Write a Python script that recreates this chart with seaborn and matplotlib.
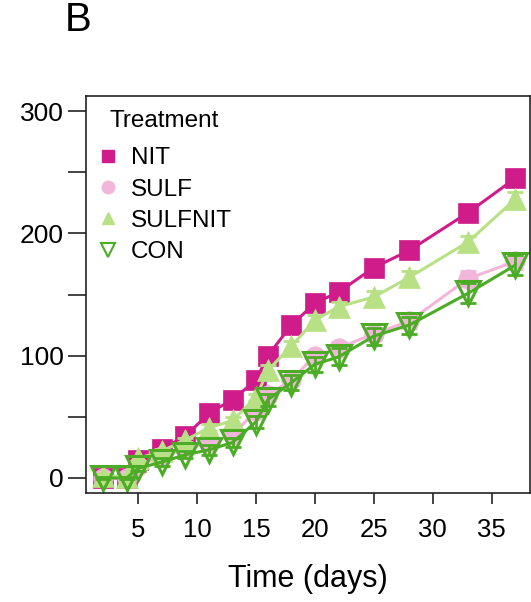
import matplotlib
matplotlib.use("Agg")
import matplotlib.pyplot as plt
import seaborn as sns
import pandas as pd
import numpy as np
from matplotlib.lines import Line2D

days = [2, 4, 5, 7, 9, 11, 13, 15, 16, 18, 20, 22, 25, 28, 33, 37]
nit = [0, 0, 15, 24, 34, 53, 64, 80, 100, 125, 143, 152, 172, 186, 217, 245]
sulf = [0, 0, 10, 18, 24, 28, 35, 55, 68, 80, 100, 106, 118, 128, 163, 177]
sulfnit = [2, 1, 16, 22, 31, 41, 47, 66, 88, 108, 129, 140, 148, 164, 193, 228]
con = [0, 0, 8, 13, 19, 23, 29, 46, 64, 78, 93, 99, 116, 125, 151, 174]
err_nit = [1, 1, 2, 2, 2, 3, 3, 3, 3, 3, 4, 4, 4, 4, 5, 5]
err_sulf = [1, 1, 2, 2, 2, 3, 3, 3, 4, 4, 4, 5, 5, 5, 6, 6]
err_sulfnit = [1, 1, 2, 2, 2, 3, 3, 3, 4, 4, 4, 4, 5, 5, 5, 6]
err_con = [1, 1, 2, 3, 3, 4, 4, 5, 5, 6, 6, 7, 7, 7, 8, 8]

treatments = ["NIT", "SULF", "SULFNIT", "CON"]
colors = {"NIT": "#d01c8b", "SULF": "#f1b6da", "SULFNIT": "#b8e186", "CON": "#4dac26"}
markers = {"NIT": "s", "SULF": "o", "SULFNIT": "^", "CON": "v"}
msizes = {"NIT": 14, "SULF": 14, "SULFNIT": 16, "CON": 17}

frames = []
for t, vals, errs in zip(treatments, [nit, sulf, sulfnit, con],
                         [err_nit, err_sulf, err_sulfnit, err_con]):
    frames.append(pd.DataFrame({"Time": days, "Value": vals, "Err": errs, "Treatment": t}))
df = pd.concat(frames, ignore_index=True)

sns.set_style("white")
plt.rcParams["font.family"] = ["Liberation Sans", "DejaVu Sans"]
plt.rcParams["text.color"] = "black"
plt.rcParams["axes.labelcolor"] = "black"
plt.rcParams["xtick.color"] = "black"
plt.rcParams["ytick.color"] = "black"

fig = plt.figure(figsize=(5.31, 6.02), dpi=100)
ax = fig.add_axes([86 / 531, 1 - 493 / 602, (530 - 86) / 531, (493 - 96) / 602])

for t in treatments:
    sub = df[df["Treatment"] == t]
    c = colors[t]
    ax.errorbar(sub["Time"], sub["Value"], yerr=sub["Err"], fmt="none",
                ecolor=c, elinewidth=2, capsize=6, capthick=2, zorder=2)
    if t == "CON":
        sns.lineplot(data=sub, x="Time", y="Value", ax=ax, color=c, lw=2.2,
                     marker="v", markersize=msizes[t], markerfacecolor="none",
                     markeredgecolor=c, markeredgewidth=2.2, legend=False)
    else:
        sns.lineplot(data=sub, x="Time", y="Value", ax=ax, color=c, lw=2.2,
                     marker=markers[t], markersize=msizes[t], markerfacecolor=c,
                     markeredgecolor=c, markeredgewidth=0.5, legend=False)

ax.set_xlim(0.56, 38.25)
ax.set_ylim(-12.3, 312.3)
ax.set_xticks([5, 10, 15, 20, 25, 30, 35])
ax.set_yticks([0, 50, 100, 150, 200, 250, 300])
ax.set_yticklabels(["0", "", "100", "", "200", "", "300"])
ax.tick_params(axis="x", length=8, width=1.2, pad=10, labelsize=18.5, direction="out",
               bottom=True, color="#222222")
ax.tick_params(axis="y", length=13, width=1.2, pad=3, labelsize=19, direction="out",
               left=True, color="#222222")
for s in ax.spines.values():
    s.set_visible(True)
    s.set_color("#222222")
    s.set_linewidth(1.2)
ax.set_xlabel("Time (days)", fontsize=22, labelpad=16)
ax.set_ylabel("")

handles = []
for t in treatments:
    c = colors[t]
    if t == "CON":
        h = Line2D([], [], ls="none", marker="v", markersize=10, markerfacecolor="none",
                   markeredgecolor=c, markeredgewidth=1.5)
    else:
        h = Line2D([], [], ls="none", marker=markers[t], markersize=9,
                   markerfacecolor=c, markeredgecolor=c)
    handles.append(h)
leg = ax.legend(handles, treatments, loc="upper left",
                bbox_to_anchor=(0.0, 0.895), frameon=False, fontsize=17.5,
                handletextpad=0.45, labelspacing=0.38,
                handlelength=1.0, borderaxespad=0.0)
ax.text((110 - 86) / 444, 1 - (121 - 96) / 397, "Treatment", transform=ax.transAxes,
        fontsize=17.5, ha="left", va="center")

fig.text(65 / 531, 1 - 20 / 602, "B", fontsize=29, va="center", ha="left")

fig.savefig("out.png", dpi=100)
